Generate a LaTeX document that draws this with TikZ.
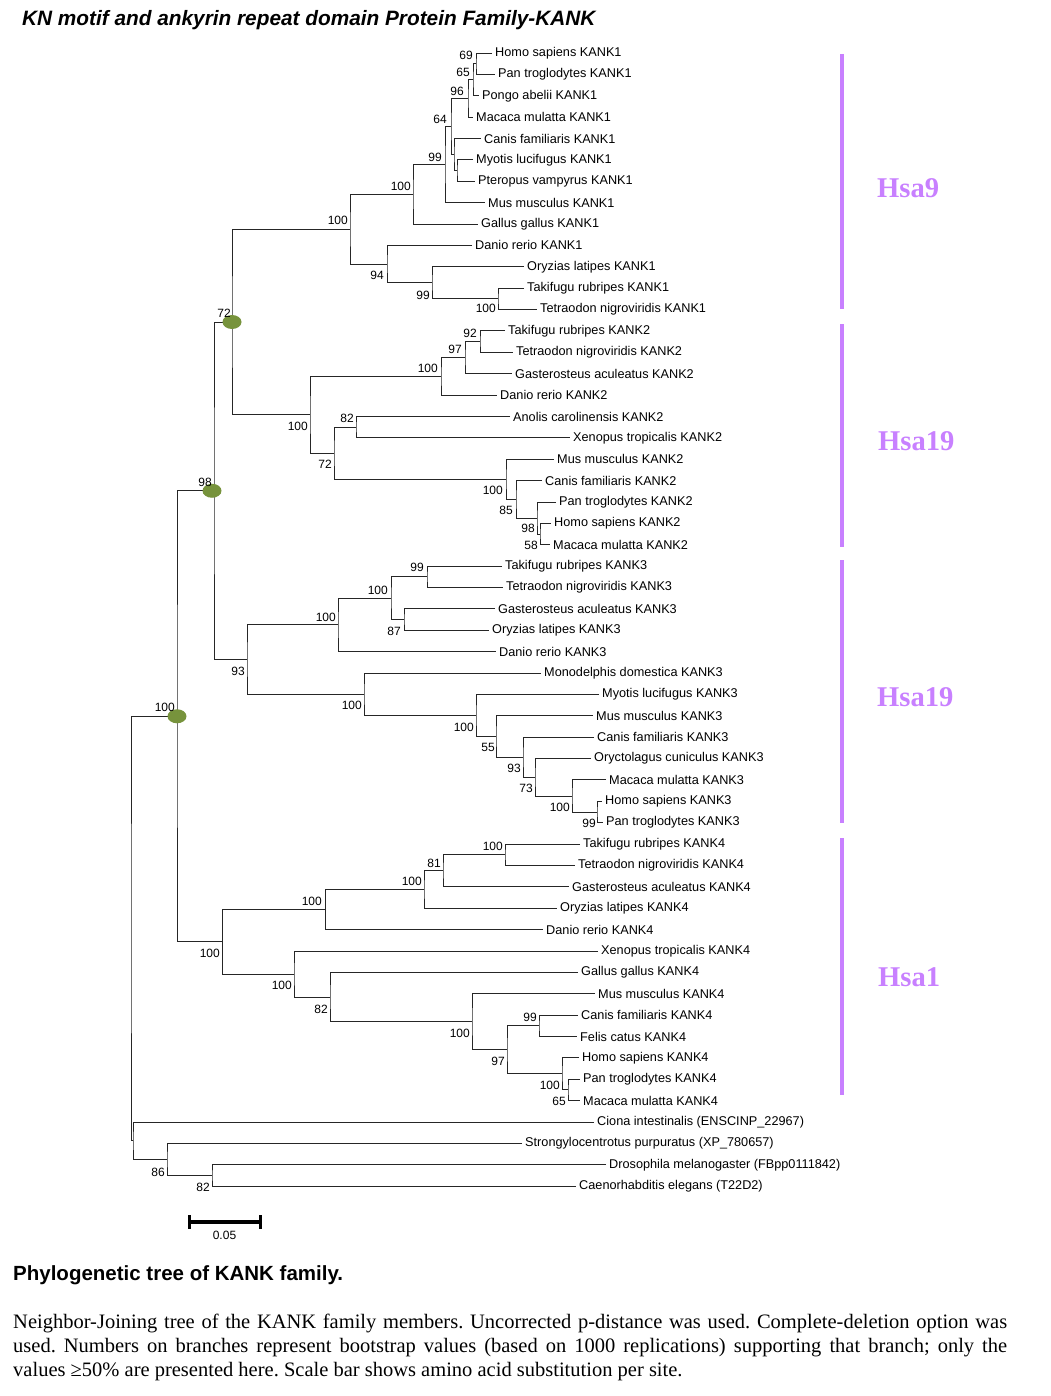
\documentclass[tikz,border=0pt]{standalone}
\usepackage{fontspec}
\setmainfont{Liberation Sans}
\newfontfamily\capserif{Liberation Serif}
\usetikzlibrary{calc,shapes.geometric}

\definecolor{chrpurple}{RGB}{200,128,255}
\definecolor{nodegreen}{RGB}{119,147,60}

% clade: name, x of the node, upper child, lower child
\newcommand{\clade}[4]{%
  \coordinate (#1x) at (#2,0);
  \coordinate (#1m) at ($(#3)!0.5!(#4)$);
  \coordinate (#1) at (#1x |- #1m);
  \draw[branch] (#3) -| (#1) |- (#4);
}

\frenchspacing
\begin{document}
\begin{tikzpicture}[x=1pt, y=-1pt,
  branch/.style={line width=0.9pt, black!85},
  leaf/.style={anchor=west, inner xsep=3pt, inner ysep=0pt, font=\fontsize{12.7}{14}\selectfont},
  boot/.style={anchor=east, inner sep=0pt, font=\fontsize{12}{14}\selectfont},
  oval/.style={ellipse, fill=nodegreen, minimum width=19pt, minimum height=14pt, inner sep=0pt},
  chrbar/.style={line width=4pt, chrpurple},
  chrlabel/.style={anchor=west, inner sep=0pt, text=chrpurple, font=\capserif\bfseries\fontsize{28.6}{30}\selectfont}]

\useasboundingbox (0,0) rectangle (1051,1396);

% Title
\node[anchor=base west, inner sep=0pt, font=\bfseries\itshape\fontsize{20.8}{24}\selectfont] (title) at (22,26) {KN motif and ankyrin repeat domain Protein Family-KANK};

% Leaves KANK1
\node[leaf] (hs1) at (492, 53.0) {Homo sapiens KANK1};
\node[leaf] (pt1) at (495, 74.4) {Pan troglodytes KANK1};
\node[leaf] (pa1) at (479, 95.8) {Pongo abelii KANK1};
\node[leaf] (mm1) at (473,117.1) {Macaca mulatta KANK1};
\node[leaf] (cf1) at (481,138.5) {Canis familiaris KANK1};
\node[leaf] (ml1) at (473,159.9) {Myotis lucifugus KANK1};
\node[leaf] (pv1) at (475,181.3) {Pteropus vampyrus KANK1};
\node[leaf] (mu1) at (485,202.7) {Mus musculus KANK1};
\node[leaf] (gg1) at (478,224.0) {Gallus gallus KANK1};
\node[leaf] (dr1) at (472,245.4) {Danio rerio KANK1};
\node[leaf] (ol1) at (524,266.8) {Oryzias latipes KANK1};
\node[leaf] (tr1) at (524,288.2) {Takifugu rubripes KANK1};
\node[leaf] (tn1) at (537,309.6) {Tetraodon nigroviridis KANK1};

% Leaves KANK2
\node[leaf] (tr2) at (505,330.9) {Takifugu rubripes KANK2};
\node[leaf] (tn2) at (513,352.3) {Tetraodon nigroviridis KANK2};
\node[leaf] (ga2) at (512,373.7) {Gasterosteus aculeatus KANK2};
\node[leaf] (dr2) at (497,395.1) {Danio rerio KANK2};
\node[leaf] (ac2) at (510,416.5) {Anolis carolinensis KANK2};
\node[leaf] (xt2) at (570,437.8) {Xenopus tropicalis KANK2};
\node[leaf] (mu2) at (554,459.2) {Mus musculus KANK2};
\node[leaf] (cf2) at (542,480.6) {Canis familiaris KANK2};
\node[leaf] (pt2) at (556,502.0) {Pan troglodytes KANK2};
\node[leaf] (hs2) at (551,523.4) {Homo sapiens KANK2};
\node[leaf] (mm2) at (550,544.7) {Macaca mulatta KANK2};

% Leaves KANK3
\node[leaf] (tr3) at (502,566.1) {Takifugu rubripes KANK3};
\node[leaf] (tn3) at (503,587.5) {Tetraodon nigroviridis KANK3};
\node[leaf] (ga3) at (495,608.9) {Gasterosteus aculeatus KANK3};
\node[leaf] (ol3) at (489,630.3) {Oryzias latipes KANK3};
\node[leaf] (dr3) at (496,651.6) {Danio rerio KANK3};
\node[leaf] (md3) at (541,673.0) {Monodelphis domestica KANK3};
\node[leaf] (ml3) at (599,694.4) {Myotis lucifugus KANK3};
\node[leaf] (mu3) at (593,715.8) {Mus musculus KANK3};
\node[leaf] (cf3) at (594,737.2) {Canis familiaris KANK3};
\node[leaf] (oc3) at (591,758.5) {Oryctolagus cuniculus KANK3};
\node[leaf] (mm3) at (606,779.9) {Macaca mulatta KANK3};
\node[leaf] (hs3) at (602,801.3) {Homo sapiens KANK3};
\node[leaf] (pt3) at (603,822.7) {Pan troglodytes KANK3};

% Leaves KANK4
\node[leaf] (tr4) at (580,844.1) {Takifugu rubripes KANK4};
\node[leaf] (tn4) at (575,865.4) {Tetraodon nigroviridis KANK4};
\node[leaf] (ga4) at (569,886.8) {Gasterosteus aculeatus KANK4};
\node[leaf] (ol4) at (557,908.2) {Oryzias latipes KANK4};
\node[leaf] (dr4) at (543,929.6) {Danio rerio KANK4};
\node[leaf] (xt4) at (598,951.0) {Xenopus tropicalis KANK4};
\node[leaf] (gg4) at (578,972.3) {Gallus gallus KANK4};
\node[leaf] (mu4) at (595,993.7) {Mus musculus KANK4};
\node[leaf] (cf4) at (578,1015.1) {Canis familiaris KANK4};
\node[leaf] (fc4) at (577,1036.5) {Felis catus KANK4};
\node[leaf] (hs4) at (579,1057.9) {Homo sapiens KANK4};
\node[leaf] (pt4) at (580,1079.2) {Pan troglodytes KANK4};
\node[leaf] (mm4) at (580,1100.6) {Macaca mulatta KANK4};

% Outgroups
\node[leaf] (ci) at (594,1122.0) {Ciona intestinalis (ENSCINP\_22967)};
\node[leaf] (sp) at (522,1143.4) {Strongylocentrotus purpuratus (XP\_780657)};
\node[leaf] (dm) at (606,1164.8) {Drosophila melanogaster (FBpp0111842)};
\node[leaf] (ce) at (576,1186.1) {Caenorhabditis elegans (T22D2)};

% Draw the KANK1 branches
\clade{a1}{476}{hs1.west}{pt1.west}
\clade{a2}{473}{a1}{pa1.west}
\clade{a3}{468}{a2}{mm1.west}
\clade{a4}{457}{ml1.west}{pv1.west}
\clade{a5}{454}{cf1.west}{a4}
\clade{a6}{451}{a3}{a5}
\clade{a7}{445}{a6}{mu1.west}
\clade{a8}{413}{a7}{gg1.west}
\clade{a9}{498}{tr1.west}{tn1.west}
\clade{a10}{432}{ol1.west}{a9}
\clade{a11}{387}{dr1.west}{a10}
\clade{a12}{350}{a8}{a11}

% Draw the KANK2 branches
\clade{b1}{480}{tr2.west}{tn2.west}
\clade{b2}{465}{b1}{ga2.west}
\clade{b3}{441}{b2}{dr2.west}
\clade{b4}{356}{ac2.west}{xt2.west}
\clade{b5}{540}{hs2.west}{mm2.west}
\clade{b6}{537}{pt2.west}{b5}
\clade{b7}{516}{cf2.west}{b6}
\clade{b8}{506}{mu2.west}{b7}
\clade{b9}{334}{b4}{b8}
\clade{b10}{310}{b3}{b9}
\clade{r1}{232}{a12}{b10}

% Draw the KANK3 branches
\clade{c1}{427}{tr3.west}{tn3.west}
\clade{c2}{404}{ga3.west}{ol3.west}
\clade{c3}{391}{c1}{c2}
\clade{c4}{338}{c3}{dr3.west}
\clade{c5}{597}{hs3.west}{pt3.west}
\clade{c6}{572}{mm3.west}{c5}
\clade{c7}{535}{oc3.west}{c6}
\clade{c8}{523}{cf3.west}{c7}
\clade{c9}{496}{mu3.west}{c8}
\clade{c10}{476}{ml3.west}{c9}
\clade{c11}{364}{md3.west}{c10}
\clade{c12}{247}{c4}{c11}
\clade{r2}{214}{r1}{c12}

% Draw the KANK4 branches
\clade{d1}{505}{tr4.west}{tn4.west}
\clade{d2}{443}{d1}{ga4.west}
\clade{d3}{424}{d2}{ol4.west}
\clade{d4}{325.5}{d3}{dr4.west}
\clade{d5}{539}{cf4.west}{fc4.west}
\clade{d6}{568}{pt4.west}{mm4.west}
\clade{d7}{562}{hs4.west}{d6}
\clade{d8}{507}{d5}{d7}
\clade{d9}{472}{mu4.west}{d8}
\clade{d10}{330}{gg4.west}{d9}
\clade{d11}{294}{xt4.west}{d10}
\clade{d12}{222.5}{d4}{d11}
\clade{r3}{177}{r2}{d12}

% Draw the outgroup and the root
\clade{e1}{212}{dm.west}{ce.west}
\clade{e2}{167}{sp.west}{e1}
\clade{e3}{133}{ci.west}{e2}
\clade{root}{131}{r3}{e3}

% Duplication nodes
\node[oval] (o1) at (r1) {};
\node[oval] (o2) at ($(r2)+(-2,0)$) {};
\node[oval] (o3) at (r3) {};

% Bootstrap values
\node[boot] (bs-a1) at (473,55) {69};
\node[boot] (bs-a2) at (470,72) {65};
\node[boot] (bs-a3) at (464,91) {96};
\node[boot] (bs-a6) at (447,119) {64};
\node[boot] (bs-a7) at (442,157) {99};
\node[boot] (bs-a8) at (411,186) {100};
\node[boot] (bs-a12) at (348,220) {100};
\node[boot] (bs-a11) at (384,275) {94};
\node[boot] (bs-a10) at (430,295) {99};
\node[boot] (bs-a9) at (496,308) {100};
\node[boot] (bs-r1) at (231,313) {72};
\node[boot] (bs-b1) at (477,333) {92};
\node[boot] (bs-b2) at (462,349) {97};
\node[boot] (bs-b3) at (438,368) {100};
\node[boot] (bs-b4) at (354,418) {82};
\node[boot] (bs-b10) at (308,426) {100};
\node[boot] (bs-b9) at (332,464) {72};
\node[boot] (bs-b8) at (503,490) {100};
\node[boot] (bs-b7) at (513,510) {85};
\node[boot] (bs-b6) at (535,528) {98};
\node[boot] (bs-b5) at (538,545) {58};
\node[boot] (bs-r2) at (212,482) {98};
\node[boot] (bs-c1) at (424,567) {99};
\node[boot] (bs-c3) at (388,590) {100};
\node[boot] (bs-c4) at (336,617) {100};
\node[boot] (bs-c2) at (401,631) {87};
\node[boot] (bs-c12) at (245,671) {93};
\node[boot] (bs-c11) at (362,705) {100};
\node[boot] (bs-c10) at (474,727) {100};
\node[boot] (bs-c9) at (495,747) {55};
\node[boot] (bs-c8) at (521,768) {93};
\node[boot] (bs-c7) at (533,788) {73};
\node[boot] (bs-c6) at (570,807) {100};
\node[boot] (bs-c5) at (596,823) {99};
\node[boot] (bs-r3) at (175,707) {100};
\node[boot] (bs-d1) at (503,846) {100};
\node[boot] (bs-d2) at (441,863) {81};
\node[boot] (bs-d3) at (422,881) {100};
\node[boot] (bs-d4) at (322,901) {100};
\node[boot] (bs-d12) at (220,953) {100};
\node[boot] (bs-d11) at (292,985) {100};
\node[boot] (bs-d10) at (328,1009) {82};
\node[boot] (bs-d5) at (537,1017) {99};
\node[boot] (bs-d9) at (470,1033) {100};
\node[boot] (bs-d8) at (505,1061) {97};
\node[boot] (bs-d7) at (560,1085) {100};
\node[boot] (bs-d6) at (566,1101) {65};
\node[boot] (bs-e2) at (165,1172) {86};
\node[boot] (bs-e1) at (210,1187) {82};

% Chromosome bars
\draw[chrbar] (842,54) -- (842,309);
\draw[chrbar] (842,324) -- (842,547);
\draw[chrbar] (842,560) -- (842,823);
\draw[chrbar] (842,838) -- (842,1095);
\node[chrlabel] (hsa9) at (877,188) {Hsa9};
\node[chrlabel] (hsa19a) at (878,441) {Hsa19};
\node[chrlabel] (hsa19b) at (877,697) {Hsa19};
\node[chrlabel] (hsa1) at (878,977) {Hsa1};

% Scale bar
\draw[line width=3.5pt] (189,1222) -- (260,1222);
\draw[line width=3pt] (189,1215) -- (189,1229);
\draw[line width=3pt] (260,1215) -- (260,1229);
\node[font=\fontsize{12}{14}\selectfont] (scale) at (224.5,1235) {0.05};

% Caption
\node[anchor=base west, inner sep=0pt, font=\bfseries\fontsize{20.5}{24}\selectfont] (captitle) at (13,1280) {Phylogenetic tree of KANK family.};
\node[anchor=north west, inner sep=0pt, text width=994pt, align=justify, font=\capserif\fontsize{20.5}{24}\selectfont] (captext) at (13,1314)
  {Neighbor-Joining tree of the KANK family members. Uncorrected p-distance was used. Complete-deletion option was\linebreak used. Numbers on branches represent bootstrap values (based on 1000 replications) supporting that branch; only the\linebreak values ≥50\% are presented here. Scale bar shows amino acid substitution per site.};

\end{tikzpicture}
\end{document}
